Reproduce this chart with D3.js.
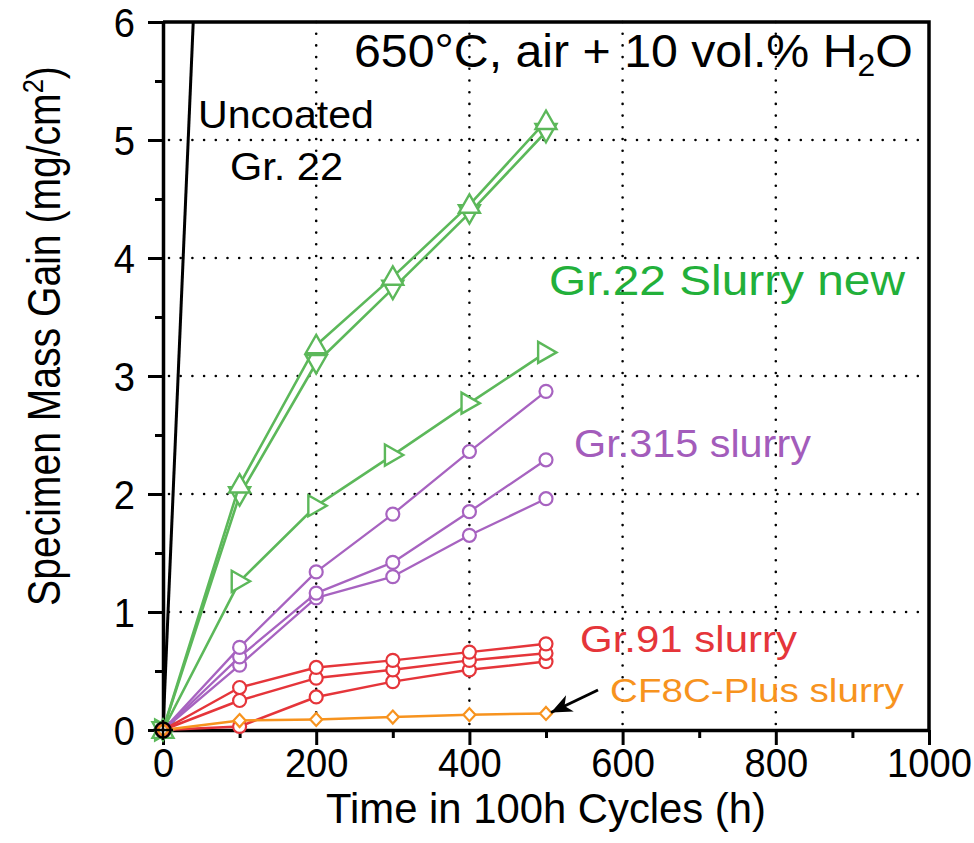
<!DOCTYPE html>
<html>
<head>
<meta charset="utf-8">
<script src="https://cdn.jsdelivr.net/npm/d3@7"></script>
<style>
  html, body { margin: 0; padding: 0; background: #fff; }
  svg { display: block; font-family: "Liberation Sans", Arial, Helvetica, sans-serif; }
</style>
</head>
<body>
<svg id="chart" width="974" height="843"></svg>
<script>
// Exposure times (h)
const times = [0, 100, 200, 300, 400, 500];

// Specimen mass gain (mg/cm^2)
const gr22Up    = [0, 2.08, 3.26, 3.84, 4.45, 5.16];
const gr22Down  = [0, 1.99, 3.11, 3.74, 4.38, 5.07];
const gr22Right = [0, 1.26, 1.90, 2.33, 2.77, 3.20];
const gr315A    = [0, 0.70, 1.34, 1.83, 2.36, 2.87];
const gr315B    = [0, 0.62, 1.16, 1.42, 1.85, 2.29];
const gr315C    = [0, 0.55, 1.12, 1.30, 1.65, 1.96];
const gr91A     = [0, 0.36, 0.53, 0.59, 0.66, 0.73];
const gr91B     = [0, 0.25, 0.44, 0.51, 0.59, 0.65];
const gr91C     = [0, 0.03, 0.28, 0.41, 0.51, 0.58];
const cf8c      = [0, 0.08, 0.09, 0.11, 0.13, 0.14];

// Uncoated Gr. 22 (runs off the top of the plot)
const uncoatedTimes = [0, 100];
const uncoatedGain  = [0, 15.2];

// Axis ticks
const xMajor = [0, 200, 400, 600, 800, 1000];
const xMinor = [100, 300, 500, 700, 900];
const yMajor = [0, 1, 2, 3, 4, 5, 6];
const yMinor = [0.5, 1.5, 2.5, 3.5, 4.5, 5.5];
const xGrid = [200, 400, 600, 800];
const yGrid = [1, 2, 3, 4, 5];

const GREEN = "#5cb85a", GREEN_TXT = "#22b03a";
const PURPLE = "#a763c0", PURPLE_TXT = "#a35cbb";
const RED = "#e5353a", ORANGE = "#f7931e";

const svg = d3.select("#chart");
const x = d3.scaleLinear().domain([0, 1000]).range([163, 929]);
const y = d3.scaleLinear().domain([0, 6]).range([730, 22]);

// Squeeze / stretch a text element horizontally so it spans the given width
function fit(textSel, width) {
  const node = textSel.node();
  const w = node.getComputedTextLength();
  const k = width / w;
  const prev = textSel.attr("transform") || "";
  textSel.attr("transform", prev + ` scale(${k},1)`);
}

const defs = svg.append("defs");
defs.append("clipPath").attr("id", "plotClip")
  .append("rect").attr("x", 163).attr("y", 22).attr("width", 766).attr("height", 708);

// Dotted grid
const grid = svg.append("g").attr("stroke", "#000").attr("stroke-width", 2.6)
  .attr("stroke-dasharray", "0 11.7").attr("stroke-linecap", "round");
grid.selectAll("line.vx").data(xGrid).join("line")
  .attr("x1", d => x(d)).attr("x2", d => x(d)).attr("y1", y(0) - 6).attr("y2", y(6));
grid.selectAll("line.hy").data(yGrid).join("line")
  .attr("y1", d => y(d)).attr("y2", d => y(d)).attr("x1", x(0) + 6).attr("x2", x(1000));

// Axes
const tickFont = 41;
const gx = svg.append("g").attr("transform", `translate(0,${y(0)})`)
  .call(d3.axisBottom(x).tickValues(xMajor).tickSize(15).tickSizeOuter(0).tickPadding(4).tickFormat(d3.format("d")));
svg.append("g").attr("transform", `translate(0,${y(0)})`)
  .call(d3.axisBottom(x).tickValues(xMinor).tickSize(8).tickSizeOuter(0).tickFormat(""))
  .call(g => g.select(".domain").remove());
const gy = svg.append("g").attr("transform", `translate(${x(0)},0)`)
  .call(d3.axisLeft(y).tickValues(yMajor).tickSize(15).tickSizeOuter(0).tickFormat(d3.format("d")));
svg.append("g").attr("transform", `translate(${x(0)},0)`)
  .call(d3.axisLeft(y).tickValues(yMinor).tickSize(8).tickSizeOuter(0).tickFormat(""))
  .call(g => g.select(".domain").remove());

svg.selectAll(".tick line").attr("stroke", "#000").attr("stroke-width", 3);
svg.selectAll(".domain").attr("stroke", "#000").attr("stroke-width", 3.5);

gx.selectAll(".tick text")
  .attr("font-size", tickFont).attr("font-family", "Liberation Sans, Arial, sans-serif")
  .attr("fill", "#000").attr("y", 0).attr("dy", null)
  .attr("transform", "translate(0,47) scale(0.93,1)");
gy.selectAll(".tick text")
  .attr("font-size", tickFont).attr("font-family", "Liberation Sans, Arial, sans-serif")
  .attr("fill", "#000").attr("x", 0).attr("dy", "0.36em")
  .attr("transform", "translate(-28,0) scale(0.93,1)");

// Frame (top and right)
svg.append("path")
  .attr("d", `M${x(0)},${y(6)}H${x(1000)}V${y(0)}`)
  .attr("fill", "none").attr("stroke", "#000").attr("stroke-width", 3.5);

// Uncoated Gr. 22
svg.append("path")
  .datum(uncoatedTimes.map((t, i) => [t, uncoatedGain[i]]))
  .attr("clip-path", "url(#plotClip)")
  .attr("d", d3.line().x(d => x(d[0])).y(d => y(d[1])))
  .attr("fill", "none").attr("stroke", "#000").attr("stroke-width", 3);

const line = d3.line().x(d => x(d[0])).y(d => y(d[1]));
const pts = vals => times.map((t, i) => [t, vals[i]]);

function triPath(dir, s) {
  // s = half width
  if (dir === "up")    return `M0,${-s}L${s},${s * 0.75}L${-s},${s * 0.75}Z`;
  if (dir === "down")  return `M0,${s}L${s},${-s * 0.75}L${-s},${-s * 0.75}Z`;
  return `M${s},0L${-s * 0.75},${s}L${-s * 0.75},${-s}Z`;
}

function series(vals, color, width, marker) {
  const g = svg.append("g");
  g.append("path").datum(pts(vals)).attr("d", line)
    .attr("fill", "none").attr("stroke", color).attr("stroke-width", width)
    .attr("stroke-linejoin", "round");
  const m = g.selectAll("g.m").data(pts(vals)).join("g")
    .attr("transform", d => `translate(${x(d[0])},${y(d[1])})`);
  if (marker === "circle") {
    m.append("circle").attr("r", 6.5).attr("fill", "#fff")
      .attr("stroke", color).attr("stroke-width", 2.2);
  } else if (marker === "diamond") {
    m.append("path").attr("d", "M0,-6.5L6,0L0,6.5L-6,0Z").attr("fill", "#fff")
      .attr("stroke", color).attr("stroke-width", 2.2);
  } else {
    m.append("path").attr("d", triPath(marker, 10.5)).attr("fill", "#fff")
      .attr("stroke", color).attr("stroke-width", 2.4).attr("stroke-linejoin", "miter");
  }
}

series(gr22Right, GREEN, 2.6, "right");
series(gr22Down, GREEN, 2.6, "down");
series(gr22Up, GREEN, 2.6, "up");
series(gr315C, PURPLE, 2.3, "circle");
series(gr315B, PURPLE, 2.3, "circle");
series(gr315A, PURPLE, 2.3, "circle");
series(gr91C, RED, 2.5, "circle");
series(gr91B, RED, 2.5, "circle");
series(gr91A, RED, 2.5, "circle");
series(cf8c, ORANGE, 2.5, "diamond");

// Uncoated start marker (circle with cross)
const o = svg.append("g").attr("transform", `translate(${x(uncoatedTimes[0])},${y(uncoatedGain[0])})`);
o.append("circle").attr("r", 7.5).attr("fill", "none").attr("stroke", "#000").attr("stroke-width", 2.4);
o.append("path").attr("d", "M-10,0H10M0,-10V10").attr("stroke", "#000").attr("stroke-width", 2.4);

// Arrow pointing at the CF8C-Plus curve
defs.append("marker").attr("id", "arrowHead")
  .attr("viewBox", "0 0 24 24").attr("refX", 23).attr("refY", 12)
  .attr("markerWidth", 24).attr("markerHeight", 24).attr("markerUnits", "userSpaceOnUse")
  .attr("orient", "auto")
  .append("path").attr("d", "M23,12L2,3L8,12L2,21Z").attr("fill", "#000");
svg.append("line")
  .attr("x1", 598).attr("y1", 690).attr("x2", x(500) + 5).attr("y2", y(cf8c[5]) - 1)
  .attr("stroke", "#000").attr("stroke-width", 3).attr("marker-end", "url(#arrowHead)");

// Text labels
function label(txt, xPos, yPos, size, color, width, anchor = "start") {
  const t = svg.append("text").attr("transform", `translate(${xPos},${yPos})`)
    .attr("font-size", size).attr("fill", color).attr("text-anchor", anchor).text(txt);
  fit(t, width);
  return t;
}

// Title with subscript
const title = svg.append("text").attr("transform", "translate(354,67)")
  .attr("font-size", 47).attr("fill", "#000");
title.append("tspan").text("650°C, air + 10 vol.% H");
title.append("tspan").attr("font-size", 31).attr("dy", 9).text("2");
title.append("tspan").attr("dy", -9).text("O");
fit(title, 559);

label("Uncoated", 198, 128, 39, "#000", 176);
label("Gr. 22", 230, 180, 39, "#000", 113);
label("Gr.22 Slurry new", 549, 295, 43, GREEN_TXT, 356);
label("Gr.315 slurry", 574, 457, 38, PURPLE_TXT, 237);
label("Gr.91 slurry", 580, 652, 37, RED, 217);
label("CF8C-Plus slurry", 610, 702, 34, ORANGE, 294);

// Axis titles
const xt = svg.append("text").attr("transform", "translate(546,823)")
  .attr("font-size", 43).attr("text-anchor", "middle").attr("fill", "#000")
  .text("Time in 100h Cycles (h)");
fit(xt, 440);

const yt = svg.append("text").attr("transform", "translate(60,336) rotate(-90)")
  .attr("font-size", 46).attr("text-anchor", "middle").attr("fill", "#000");
yt.append("tspan").text("Specimen Mass Gain (mg/cm");
yt.append("tspan").attr("font-size", 30).attr("dy", -17).text("2");
yt.append("tspan").attr("dy", 17).text(")");
fit(yt, 540);
</script>
</body>
</html>
